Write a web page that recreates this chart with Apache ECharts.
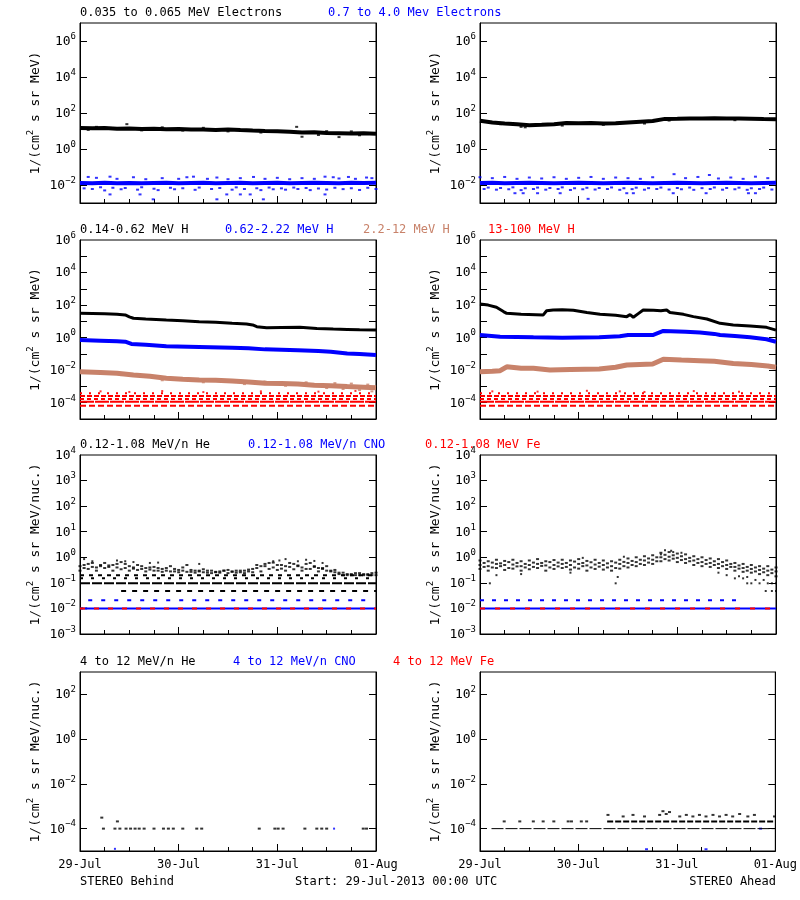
<!DOCTYPE html>
<html><head><meta charset="utf-8">
<script src="https://cdn.jsdelivr.net/npm/echarts@6/dist/echarts.min.js"></script>
<style>html,body{margin:0;padding:0;background:#fff}#c{width:800px;height:900px}</style>
</head><body><div id="c"></div>
<script>
// ---------------- DATA (hours since 29-Jul-2013 00:00 UTC) ----------------
const dayLabels = ['29-Jul','30-Jul','31-Jul','01-Aug'];
const hrs3 = [0,3,6,9,12,15,18,21,24,27,30,33,36,39,42,45,48,51,54,57,60,63,66,69,72];
const hrs2 = [0,2,4,6,8,10,12,14,16,18,20,22,24,26,28,30,32,34,36,38,40,42,44,46,48,50,52,54,56,58,60,62,64,66,68,70,72];
const hrsOdd = [1,3,5,7,9,11,13,15,17,19,21,23,25,27,29,31,33,35,37,39,41,43,45,47,49,51,53,55,57,59,61,63,65,67,69,71];

// Row 1: electrons
const elecLoB = [14.5,14.0,14.8,13.5,13.8,13.0,13.2,12.4,12.8,12.0,12.2,11.5,12.0,11.2,10.5,10.0,9.6,9.0,8.2,8.6,7.8,7.6,7.2,7.4,7.0];
const elecLoBpts = [[11.4,24],[4,17],[20,16],[30,15],[52.7,17],[54,4.8],[63,4.6],[36,9.5],[44,8.2],[58,6.0],[68,5.8],[60,9.8],[66,9.5],[2,11.5],[15,10.8],[25,10.5]];
const elecHiB = [0.013,0.0125,0.0135,0.0125,0.013,0.0125,0.013,0.0135,0.0125,0.013,0.0135,0.0125,0.013,0.0135,0.0125,0.013,0.0135,0.0125,0.013,0.0135,0.013,0.0125,0.0135,0.013,0.0135];
const elecHiBpts = [
 [2,0.028],[4,0.025],[7.3,0.029],[9,0.022],[13,0.027],[16,0.021],[20,0.024],[24,0.022],[26,0.027],[27.6,0.029],[31,0.022],[33.3,0.026],[36,0.021],[39,0.024],[42.2,0.028],[45,0.022],[48,0.025],[51,0.021],[54,0.024],[57,0.022],[59.6,0.029],[61.6,0.027],[63,0.023],[65.3,0.028],[67,0.022],[69.7,0.026],[71,0.024],
 [1,0.0065],[3,0.006],[5,0.0075],[6,0.005],[8,0.007],[10,0.0058],[11,0.0068],[14,0.0055],[15,0.0075],[18,0.0062],[19,0.0052],[22,0.007],[23,0.0058],[25,0.0066],[28,0.0054],[29,0.0072],[32,0.006],[34,0.0068],[37,0.0055],[38,0.0074],[40,0.006],[43,0.0066],[44,0.0052],[46,0.0072],[47,0.0058],[49,0.0065],[50,0.0055],[52,0.0072],[53,0.006],[55,0.0068],[56,0.0052],[58,0.0064],[60,0.0056],[62,0.007],[64,0.0059],[66,0.0066],[68,0.0053],[70,0.007],[72,0.006],
 [7.3,0.003],[14.6,0.003],[17.8,0.0016],[33.3,0.0016],[35.7,0.003],[39,0.003],[41.4,0.003],[44.6,0.0016],[59.6,0.003]
];
const elecLoA = [37,30,26,24,21,22,24,28,27,28,26,27,30,33,36,47,48,50,50,51,50,49,48,46,45];
const elecLoApts = [[10,17],[11,16],[40,26],[46,38],[62,40],[5,24],[20,20],[30,22]];
const elecHiA = [0.013,0.0135,0.0125,0.013,0.0135,0.013,0.0125,0.013,0.0135,0.013,0.0125,0.013,0.0135,0.013,0.0125,0.013,0.0135,0.013,0.0125,0.013,0.0135,0.013,0.0125,0.013,0.0135];
const elecHiApts = [
 [0,0.027],[3,0.024],[6,0.028],[9,0.022],[12,0.026],[15,0.023],[18,0.027],[21,0.022],[24,0.025],[27,0.028],[30,0.022],[33,0.026],[36,0.024],[39,0.022],[42,0.027],[47.2,0.04],[50,0.024],[53,0.028],[55.8,0.036],[58,0.023],[61,0.026],[64,0.022],[67,0.029],[70,0.024],
 [1,0.006],[2,0.0072],[4,0.0055],[5,0.0068],[7,0.0058],[8,0.0074],[10,0.0052],[11,0.0066],[13,0.006],[14,0.0072],[16,0.0055],[17,0.0068],[19,0.006],[20,0.0074],[22,0.0053],[23,0.0066],[25,0.0058],[26,0.007],[28,0.0056],[29,0.0068],[31,0.006],[32,0.0073],[34,0.0054],[35,0.0066],[37,0.0059],[38,0.0071],[40,0.0055],[41,0.0067],[43,0.006],[44,0.0072],[46,0.0056],[48,0.0068],[49,0.0058],[51,0.0072],[52,0.0054],[54,0.0067],[56,0.006],[57,0.0073],[59,0.0055],[60,0.0068],[62,0.0058],[63,0.0071],[65,0.0054],[66,0.0066],[68,0.006],[69,0.0072],[71,0.0056],
 [8.5,0.0035],[10.5,0.0035],[14,0.0035],[19.5,0.0035],[26.3,0.0017],[35.7,0.0035],[37.3,0.0035],[47,0.0035],[55,0.0035],[65.3,0.0035],[67,0.0035]
];

// Row 2: protons
const pLowHrsB = [0,3,6,9,11,12,13,16,21,25,29,33,37,40.5,42,43,45.4,49,53.5,57.6,61.6,65,68,72];
const pLowB    = [31,30,29,27,25,19,15.5,14,12,11,9.5,8.8,7.6,6.9,6,4.7,4.1,4.2,4.3,3.7,3.4,3.2,3.0,2.9];
const pMidHrsB = [0,5,9,11,12.5,16,21,29,37,41,45,53,58,61,65,68,72];
const pMidB    = [0.71,0.65,0.6,0.56,0.41,0.36,0.3,0.27,0.24,0.22,0.19,0.17,0.15,0.135,0.107,0.1,0.085];
const pHiHrsB  = [0,5,9,13,17,21,25,29,33,37,41,45,49,53,57,61,65,69,72];
const pHiB     = [0.0081,0.0072,0.0065,0.005,0.0042,0.0032,0.0028,0.0025,0.0024,0.0022,0.0019,0.00155,0.0015,0.0014,0.0012,0.0011,0.00098,0.0009,0.00083];
const pHiBpts  = [[62,0.0016],[66,0.0015],[68,0.0006],[70,0.0013],[71,0.0005],[64,0.0007],[60,0.0008],[55,0.0018],[50,0.0011],[45,0.002],[40,0.0014],[30,0.0018],[26,0.0033],[20,0.0024],[10,0.005]];
const pTopLevelsB = [3.8e-4, 2.6e-4, 1.7e-4, 1.15e-4, 6.5e-5];
const pTopBpts = [[5,5e-4],[12,4.6e-4],[20,5.2e-4],[30,4.5e-4],[44,5e-4],[58,4.8e-4],[67,5.3e-4]];

const pLowHrsA = [0,2,4,5.7,6.5,10,15.4,16.2,17.8,20,22.7,26,29.2,33,35.7,36.5,37.3,38.5,39.7,42.2,44,45.4,46.2,49.5,51.9,55.2,58.4,61.6,65.7,69.7,72];
const pLowA    = [117,100,73,40,31,27,25,45,50,52,48,35,27,24,19.5,26,18,30,50,48,45,50,35,27,19.5,14,7.6,6,5.2,4.3,2.9];
const pMidHrsA = [0,4.9,13,20,29,34,36,42,44.6,50,53.5,57,58.4,62,65.7,69.7,72];
const pMidA    = [1.45,1.15,1.05,1.0,1.05,1.2,1.45,1.45,2.6,2.3,2.1,1.7,1.45,1.25,1.05,0.8,0.56];
const pHiHrsA  = [0,3,4.9,6.5,10,13,17,22,29,33,35.7,42,44.6,49,53.5,57,61.6,66,70,72];
const pHiA     = [0.0081,0.0085,0.0093,0.016,0.013,0.013,0.0102,0.011,0.0118,0.015,0.021,0.024,0.047,0.042,0.038,0.035,0.026,0.022,0.018,0.015];
const pTopLevelsA = [3.8e-4, 2.6e-4, 1.7e-4, 1.15e-4, 6.6e-5];
const pTopApts = [[3,5e-4],[14,4.8e-4],[26,5.4e-4],[34,5e-4],[40,4.6e-4],[52,5.2e-4],[63,4.8e-4]];

// Row 3: 0.12-1.08 MeV/n ions
const heLoBa = [0.45,0.55,0.4,0.6,0.5,0.65,0.45,0.5,0.38,0.42,0.35,0.45,0.32,0.5,0.3,0.34,0.3,0.28,0.32,0.3,0.3,0.35,0.45,0.6,0.5,0.45,0.55,0.4,0.6,0.38,0.45,0.32,0.25,0.22,0.24,0.22,0.25];
const heLoBb = [0.3,0.35,0.3,0.38,0.3,0.34,0.3,0.32,0.28,0.3,0.27,0.28,0.26,0.27,0.25,0.26,0.24,0.25,0.24,0.25,0.24,0.26,0.28,0.35,0.32,0.3,0.34,0.3,0.35,0.28,0.3,0.26,0.2,0.2,0.2,0.2,0.2];
const heLoBd = [0.38,0.42,0.5,0.42,0.55,0.38,0.4,0.35,0.4,0.3,0.38,0.28,0.4,0.27,0.3,0.25,0.26,0.3,0.27,0.26,0.28,0.38,0.45,0.4,0.36,0.42,0.48,0.35,0.42,0.35,0.28,0.22,0.2,0.2,0.2,0.2];
const heLoBe = [0.5,0.6,0.45,0.48,0.4,0.55,0.36,0.45,0.33,0.38,0.3,0.35,0.3,0.32,0.28,0.3,0.27,0.3,0.28,0.3,0.33,0.5,0.55,0.62,0.5,0.6,0.45,0.55,0.45,0.38,0.3,0.25,0.22,0.24,0.22,0.24];
const heLoBout = [[1,0.85],[3,0.7],[9,0.75],[11,0.7],[13,0.65],[17,0.6],[19,0.62],[29,0.55],[47,0.7],[48.5,0.75],[50,0.85],[53,0.7],[55,0.8],[57,0.72],[59,0.6],[0.5,0.01],[1.5,0.01]];
const heLoBlevels = [0.2, 0.15, 0.096, 0.048];
const heLoAa = [0.75,0.7,0.8,0.72,0.8,0.7,0.75,0.85,0.7,0.78,0.8,0.75,0.85,0.72,0.8,0.75,0.7,0.8,0.9,1.0,1.1,1.2,1.5,1.6,1.4,1.3,1.1,1.0,0.9,0.85,0.75,0.6,0.55,0.5,0.45,0.45,0.4];
const heLoAb = [0.5,0.45,0.55,0.5,0.52,0.45,0.5,0.55,0.48,0.5,0.55,0.5,0.55,0.48,0.52,0.5,0.45,0.55,0.6,0.65,0.75,0.8,1.0,1.05,0.95,0.85,0.75,0.65,0.6,0.55,0.5,0.42,0.38,0.35,0.32,0.3,0.28];
const heLoAc = [0.35,0.3,0.38,0.32,0.36,0.3,0.34,0.38,0.3,0.35,0.38,0.33,0.36,0.3,0.35,0.33,0.3,0.36,0.4,0.45,0.5,0.55,0.7,0.75,0.65,0.6,0.5,0.45,0.42,0.38,0.35,0.3,0.27,0.25,0.22,0.2,0.18];
const heLoAd = [0.6,0.62,0.58,0.65,0.6,0.55,0.62,0.6,0.65,0.62,0.6,0.68,0.6,0.64,0.6,0.58,0.62,0.66,0.72,0.8,0.9,1.0,1.25,1.2,1.1,0.95,0.85,0.78,0.7,0.65,0.55,0.48,0.42,0.4,0.36,0.33];
const heLoAe = [0.42,0.4,0.45,0.38,0.44,0.4,0.42,0.46,0.4,0.44,0.42,0.4,0.45,0.4,0.43,0.4,0.38,0.45,0.5,0.55,0.62,0.7,0.85,0.88,0.78,0.7,0.6,0.55,0.5,0.45,0.42,0.36,0.3,0.28,0.26,0.24];
const heLoAout = [[2.4,0.096],[4,0.2],[10,0.22],[22,0.25],[25,0.95],[33,0.096],[33.5,0.17],[35,1.05],[45,1.9],[46.5,1.8],[47,1.6],[44,1.3],[49,1.5],[58,0.25],[60,0.2],[62,0.15],[64,0.15],[65,0.096],[66,0.096],[67,0.13],[68,0.096],[69,0.13],[70,0.096],[71,0.096],[72,0.096],[69.5,0.048],[71,0.048],[72,0.048],[63,0.18],[65,0.17]];
const cnoLoLevels = [0.01, 0.021];
const feLoLevel = 0.01;

// Row 4: 4-12 MeV/n ions
const heHiBpts = [[5.7,1e-4],[8.5,1e-4],[9.7,1e-4],[11.2,1e-4],[12.3,1e-4],[13.4,1e-4],[14.4,1e-4],[15.6,1e-4],[18,1e-4],[20.3,1e-4],[21.5,1e-4],[22.7,1e-4],[25,1e-4],[28.4,1e-4],[29.6,1e-4],[43.6,1e-4],[47.4,1e-4],[48.2,1e-4],[49.4,1e-4],[54.7,1e-4],[57.6,1e-4],[58.8,1e-4],[60,1e-4],[68.9,1e-4],[69.7,1e-4],[5.3,3.1e-4],[9.1,2.1e-4]];
const cnoHiBpts = [[8.5,1.25e-5],[61.8,1e-4]];
const heHiAlevel = [1e-4, 2.1e-4];
const heHiApts = [[5.9,2.1e-4],[9.7,2.1e-4],[13,2.1e-4],[15.4,2.1e-4],[18,2.1e-4],[21.5,2.1e-4],[22.3,2.1e-4],[24.7,2.1e-4],[26,2.1e-4],
 [31.2,4.1e-4],[34.9,3.5e-4],[37.3,4.1e-4],[40.1,3.5e-4],[43.8,4.1e-4],[44.6,6e-4],[45.4,4.5e-4],[46.2,5.5e-4],[48.7,3.5e-4],[50.3,4.1e-4],[51.9,3.5e-4],[53.5,4.1e-4],[55.1,3.5e-4],[56.8,4.1e-4],[58.4,3.5e-4],[60,4.1e-4],[61.6,3.5e-4],[63.3,4.5e-4],[65.3,3.5e-4],[66.9,4.1e-4],[71.8,3.5e-4]];
const cnoHiApts = [[40.6,1.2e-5],[55.1,1.2e-5],[68.4,1e-4]];

// Text
const titleRows = [
 ['0.035 to 0.065 MeV Electrons','0.7 to 4.0 Mev Electrons'],
 ['0.14-0.62 MeV H','0.62-2.22 MeV H','2.2-12 MeV H','13-100 MeV H'],
 ['0.12-1.08 MeV/n He','0.12-1.08 MeV/n CNO','0.12-1.08 MeV Fe'],
 ['4 to 12 MeV/n He','4 to 12 MeV/n CNO','4 to 12 MeV Fe']
];
const yNames = ['{n|1/(cm}{s|2}{n| s sr MeV)}','{n|1/(cm}{s|2}{n| s sr MeV)}','{n|1/(cm}{s|2}{n| s sr MeV/nuc.)}','{n|1/(cm}{s|2}{n| s sr MeV/nuc.)}'];
const yAxisRows = [
 {min:-3, max:7, labels:[-2,0,2,4,6], ticks:[-2,0,2,4,6]},
 {min:-5, max:6, labels:[-4,-2,0,2,4,6], ticks:[-4,-3,-2,-1,0,1,2,3,4,5]},
 {min:-3, max:4, labels:[-3,-2,-1,0,1,2,3,4], ticks:[-2,-1,0,1,2,3]},
 {min:-5, max:3, labels:[-4,-2,0,2], ticks:[-4,-2,0,2]}
];

// ---------------- LAYOUT / STYLE ----------------
const FONT = '"DejaVu Sans Mono", monospace';
const K = '#000000', B = '#0000ff', BR = '#c8826a', R = '#ff0000';
const colorsByRow = [[K,B],[K,B,BR,R],[K,B,R],[K,B,R]];
const titleX = [[80,328],[80,225,363,488],[80,248,425],[80,233,393]];
const titleY = [13,230,445,662];
const tops = [23,240,455,672];
const heights = [180,179,179,179];
const lefts = [80,480];

const L = v => Math.log10(v);
const sup = v => (v < 0 ? '\u2212' + (-v) : '' + v);
const option = {animation:false, backgroundColor:'#fff', grid:[], xAxis:[], yAxis:[], series:[], graphic:[]};

for (let r = 0; r < 4; r++) {
  for (let c = 0; c < 2; c++) {
    const gi = r*2 + c;
    option.grid.push({left:lefts[c], top:tops[r], width:296, height:heights[r], show:true, borderColor:'#000', borderWidth:1, backgroundColor:'transparent'});
    option.xAxis.push({type:'value', gridIndex:gi, min:0, max:72, interval:24,
      axisLine:{show:true, onZero:false, lineStyle:{color:'#000', width:1}},
      axisTick:{show:true, inside:true, length:7, lineStyle:{color:'#000'}},
      minorTick:{show:true, splitNumber:4, length:4, lineStyle:{color:'#000'}},
      splitLine:{show:false}, minorSplitLine:{show:false},
      axisLabel:{show: r===3, fontFamily:FONT, fontSize:12, color:'#000', margin:8, showMinLabel:true, showMaxLabel:true,
        formatter: v => dayLabels[Math.round(v/24)]}
    });
    const ya = yAxisRows[r];
    option.yAxis.push({type:'value', gridIndex:gi, min:ya.min, max:ya.max, position:'left',
      axisLine:{show:true, onZero:false, lineStyle:{color:'#000'}},
      axisTick:{show:true, inside:true, length:7, customValues:ya.ticks, lineStyle:{color:'#000'}},
      splitLine:{show:false},
      axisLabel:{show:true, customValues:ya.labels, margin:4, color:'#000',
        formatter: v => '{b|10}{s|' + sup(v) + '}',
        rich:{b:{fontFamily:FONT, fontSize:13, color:'#000', verticalAlign:'bottom', lineHeight:14},
              s:{fontFamily:FONT, fontSize:9, color:'#000', verticalAlign:'bottom', lineHeight:9, padding:[0,0,7,0]}}},
      name: yNames[r], nameLocation:'middle', nameGap:38, nameRotate:90,
      nameTextStyle:{fontFamily:FONT, fontSize:13, color:'#000',
        rich:{n:{fontFamily:FONT, fontSize:13, color:'#000', verticalAlign:'bottom', lineHeight:14},
              s:{fontFamily:FONT, fontSize:9, color:'#000', verticalAlign:'bottom', lineHeight:9, padding:[0,0,7,0]}}}
    });
    option.yAxis.push({type:'value', gridIndex:gi, min:ya.min, max:ya.max, position:'right',
      axisLine:{show:true, onZero:false, lineStyle:{color:'#000'}},
      axisTick:{show:true, inside:true, length:7, customValues:ya.ticks, lineStyle:{color:'#000'}},
      splitLine:{show:false}, axisLabel:{show:false}
    });
  }
}

function band(gi, hrs, vals, color, width) {
  option.series.push({type:'line', xAxisIndex:gi, yAxisIndex:gi*2, data: hrs.map((h,i)=>[h, L(vals[i])]),
    symbol:'none', silent:true, lineStyle:{color:color, width:width}, emphasis:{disabled:true}});
}
function dots(gi, pts, color, size) {
  option.series.push({type:'scatter', xAxisIndex:gi, yAxisIndex:gi*2, data: pts.map(p=>[p[0], L(p[1])]),
    symbol:'rect', symbolSize:size, silent:true, itemStyle:{color:color}, emphasis:{disabled:true}});
}
function dotsH(gi, hrs, vals, color, size) {
  dots(gi, hrs.map((h,i)=>[h, vals[i]]), color, size);
}
function level(gi, span, v, color, dash, width) {
  option.series.push({type:'line', xAxisIndex:gi, yAxisIndex:gi*2, data:[[span[0], L(v)], [span[1], L(v)]],
    symbol:'none', silent:true, lineStyle:{color:color, width:width, type:dash}, emphasis:{disabled:true}});
}

// Row 1
band(0, hrs3, elecLoB, K, 4); dots(0, elecLoBpts, K, [3,2]);
band(0, hrs3, elecHiB, B, 4); dots(0, elecHiBpts, B, [3,2]);
band(1, hrs3, elecLoA, K, 4); dots(1, elecLoApts, K, [3,2]);
band(1, hrs3, elecHiA, B, 4); dots(1, elecHiApts, B, [3,2]);
// Row 2
const redDash = [[2,7],[5,2],[4,3],[14,1],[6,3]];
band(2, pLowHrsB, pLowB, K, 3);
band(2, pMidHrsB, pMidB, B, 4);
band(2, pHiHrsB, pHiB, BR, 5); dots(2, pHiBpts, BR, [3,2]);
pTopLevelsB.forEach((v,i)=>level(2, [0,72], v, R, redDash[i], 2)); dots(2, pTopBpts, R, [2,2]);
band(3, pLowHrsA, pLowA, K, 3);
band(3, pMidHrsA, pMidA, B, 4);
band(3, pHiHrsA, pHiA, BR, 5);
pTopLevelsA.forEach((v,i)=>level(3, [0,72], v, R, redDash[i], 2)); dots(3, pTopApts, R, [2,2]);
// Row 3
const heDash = [[4,5],[3,8],[10,2],[5,6]];
const heSpanB = [[0,72],[0,72],[0,72],[10,72]];
heLoBlevels.forEach((v,i)=>level(4, heSpanB[i], v, K, heDash[i], 2));
dotsH(4, hrs2, heLoBa, K, [3,2]); dotsH(4, hrs2, heLoBb, K, [3,2]);
dotsH(4, hrsOdd, heLoBd, K, [3,2]); dotsH(4, hrsOdd, heLoBe, K, [3,2]);
dots(4, heLoBout, K, [2,2]);
level(4, [0,72], cnoLoLevels[0], B, 'solid', 2);
level(4, [2,70], cnoLoLevels[1], B, [4,9], 2);
level(4, [0,72], feLoLevel, R, [5,9], 2);
dotsH(5, hrs2, heLoAa, K, [3,2]); dotsH(5, hrs2, heLoAb, K, [3,2]); dotsH(5, hrs2, heLoAc, K, [3,2]);
dotsH(5, hrsOdd, heLoAd, K, [3,2]); dotsH(5, hrsOdd, heLoAe, K, [3,2]);
dots(5, heLoAout, K, [2,2]);
level(5, [0,72], cnoLoLevels[0], B, 'solid', 2);
level(5, [0,63], cnoLoLevels[1], B, [4,8], 2);
level(5, [0,72], feLoLevel, R, [5,10], 2);
// Row 4
dots(6, heHiBpts, K, [3,2]);
dots(6, cnoHiBpts, B, [2,2]);
level(7, [2.8,72], heHiAlevel[0], K, [12,2], 1);
level(7, [31,72], heHiAlevel[1], K, [6,2], 2);
dots(7, heHiApts, K, [3,2]);
dots(7, cnoHiApts, B, [3,2]);

// Titles
const txtFont = '12px ' + FONT;
titleRows.forEach((row, r) => row.forEach((t, i) => {
  option.graphic.push({type:'text', x:titleX[r][i], y:titleY[r], silent:true,
    style:{text:t, fill:colorsByRow[r][i], font:txtFont, align:'left', verticalAlign:'middle'}});
}));
option.graphic.push({type:'text', x:80, y:882, style:{text:'STEREO Behind', fill:K, font:txtFont, align:'left', verticalAlign:'middle'}});
option.graphic.push({type:'text', x:295, y:882, style:{text:'Start: 29-Jul-2013 00:00 UTC', fill:K, font:txtFont, align:'left', verticalAlign:'middle'}});
option.graphic.push({type:'text', x:776, y:882, style:{text:'STEREO Ahead', fill:K, font:txtFont, align:'right', verticalAlign:'middle'}});

const chart = echarts.init(document.getElementById('c'), null, {renderer:'canvas'});
chart.setOption(option);
</script></body></html>
